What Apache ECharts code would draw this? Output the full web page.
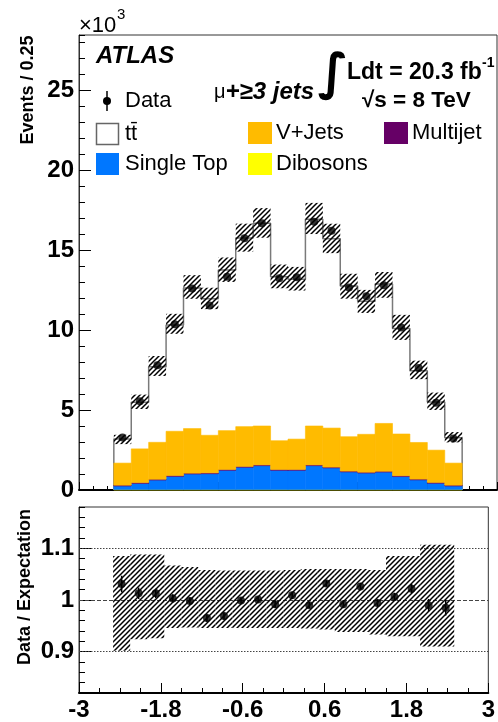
<!DOCTYPE html>
<html><head><meta charset="utf-8">
<script src="https://cdn.jsdelivr.net/npm/echarts@6/dist/echarts.min.js"></script>
<style>html,body{margin:0;padding:0;background:#fff}#c{width:498px;height:722px}</style>
</head><body><div id="c"></div>
<script>
// ---- data (events in units of 10^3) ----
const binLo = [-2.5,-2.25,-2,-1.75,-1.5,-1.25,-1,-0.75,-0.5,-0.25,0,0.25,0.5,0.75,1,1.25,1.5,1.75,2,2.25];
const binHi = [-2.25,-2,-1.75,-1.5,-1.25,-1,-0.75,-0.5,-0.25,0,0.25,0.5,0.75,1,1.25,1.5,1.75,2,2.25,2.5];
const dataEvents = [3.28,5.55,7.80,10.36,12.60,11.53,13.33,15.73,16.68,13.23,13.30,16.76,16.20,12.65,12.11,12.80,10.15,7.62,5.45,3.22];
const ttbar     = [1.50,2.91,4.72,6.65,8.78,8.53,10.04,11.79,12.67,10.25,10.00,12.93,11.83,9.42,8.32,8.72,6.59,4.48,3.01,1.59];
const vjets     = [1.38,2.11,2.31,2.77,2.79,2.35,2.43,2.49,2.43,1.80,1.90,2.43,2.44,2.15,2.37,2.99,2.61,2.29,2.02,1.38];
const multijet  = [0.05,0.05,0.05,0.05,0.05,0.05,0.05,0.05,0.05,0.05,0.05,0.05,0.05,0.05,0.05,0.05,0.05,0.05,0.05,0.05];
const singleTop = [0.22,0.38,0.59,0.82,0.97,0.99,1.20,1.39,1.49,1.20,1.20,1.49,1.35,1.10,1.03,1.09,0.81,0.60,0.39,0.22];
const dibosons  = [0.03,0.03,0.03,0.03,0.03,0.03,0.03,0.03,0.03,0.03,0.03,0.03,0.03,0.03,0.03,0.03,0.03,0.03,0.03,0.03];
const bandUp    = [1.085,1.088,1.088,1.067,1.064,1.058,1.057,1.057,1.057,1.057,1.058,1.060,1.060,1.060,1.060,1.058,1.085,1.085,1.107,1.107];
const bandDown  = [0.902,0.924,0.926,0.946,0.947,0.946,0.946,0.946,0.946,0.946,0.946,0.945,0.943,0.938,0.938,0.933,0.930,0.930,0.910,0.910];
const ratio     = [1.031,1.013,1.013,1.003,0.998,0.965,0.969,0.999,1.001,0.992,1.009,0.990,1.032,0.992,1.026,0.994,1.006,1.022,0.990,0.985];
const ratioErr  = [0.016,0.011,0.009,0.008,0.007,0.007,0.007,0.006,0.006,0.007,0.007,0.006,0.006,0.007,0.007,0.007,0.008,0.009,0.012,0.015];
const yTicksTop = [0,5,10,15,20,25];
const yTicksRatio = [0.9,1,1.1];
const ratioLines = [0.9,1,1.1];

const COL = {ttbar:'#ffffff', vjets:'#FFBB00', multijet:'#660066', singleTop:'#0077FF', dibosons:'#FFFF00'};
const FONT = "'Liberation Sans', Arial, Helvetica, sans-serif";

// build stacks
const layers = [['dibosons',dibosons],['singleTop',singleTop],['multijet',multijet],['vjets',vjets]];
const cum = binLo.map(()=>0);
const layerSeries = [];
layers.forEach(([name, arr])=>{
  const d = binLo.map((lo,i)=>{ const b = cum[i]; cum[i] = b + arr[i]; return [lo, binHi[i], b, cum[i]]; });
  const color = COL[name];
  layerSeries.push({
    type:'custom', name, xAxisIndex:0, yAxisIndex:0, z:2, silent:true,
    encode:{x:[0,1], y:[2,3]}, data:d,
    renderItem:(params, api)=>{
      const p1 = api.coord([api.value(0), api.value(3)]);
      const p2 = api.coord([api.value(1), api.value(2)]);
      return {type:'rect', shape:{x:p1[0], y:p1[1], width:p2[0]-p1[0], height:p2[1]-p1[1]},
        style:{fill:color, stroke:color, lineWidth:0.6}};
    }
  });
});
const total = binLo.map((_,i)=>cum[i] + ttbar[i]);

// outline (step)
const outline = [[binLo[0],0]];
binLo.forEach((lo,i)=>outline.push([lo,total[i]]));
outline.push([binHi[binHi.length-1], total[total.length-1]]);
outline.push([binHi[binHi.length-1], 0]);

// hatch pattern
function hatch(){
  const c = document.createElement('canvas'); c.width=5; c.height=5;
  const g = c.getContext('2d'); g.strokeStyle='#000'; g.lineWidth=1.5;
  g.beginPath();
  g.moveTo(-1,6); g.lineTo(6,-1);
  g.moveTo(-1,1); g.lineTo(1,-1);
  g.moveTo(4,6); g.lineTo(6,4);
  g.stroke(); return c;
}
const hatchImg = hatch();
function bandRender(params, api){
  const p1 = api.coord([api.value(0), api.value(3)]);
  const p2 = api.coord([api.value(1), api.value(2)]);
  return {type:'rect', shape:{x:p1[0], y:p1[1], width:p2[0]-p1[0], height:p2[1]-p1[1]},
    style:{fill:{image:hatchImg, repeat:'repeat'}}};
}

const centers = binLo.map((lo,i)=>(lo+binHi[i])/2);

const axisLblStyle = {fontSize:24, fontWeight:'bold', color:'#000', fontFamily:FONT};

const option = {
  animation:false,
  backgroundColor:'#fff',
  grid:[
    {left:79, top:35, width:418, height:455, show:true, borderColor:'#333', borderWidth:1},
    {left:79, top:507, width:418, height:187, show:true, borderColor:'#333', borderWidth:1}
  ],
  xAxis:[
    {type:'value', gridIndex:0, min:-3, max:3, interval:1, position:'bottom',
     axisLine:{onZero:false, lineStyle:{color:'#000', width:2}},
     axisTick:{inside:true, length:8, lineStyle:{color:'#000', width:1}},
     minorTick:{show:true, splitNumber:5, length:4, lineStyle:{color:'#000', width:1}},
     axisLabel:{show:false}, splitLine:{show:false}},
    {type:'value', gridIndex:1, min:-3, max:3, interval:1.2, position:'bottom',
     axisLine:{onZero:false, lineStyle:{color:'#000', width:2}},
     axisTick:{inside:true, length:10, lineStyle:{color:'#000', width:1}},
     minorTick:{show:true, splitNumber:4, length:5, lineStyle:{color:'#000', width:1}},
     axisLabel:Object.assign({margin:5, formatter:v=>String(+v.toFixed(1))}, axisLblStyle),
     splitLine:{show:false}}
  ],
  yAxis:[
    {type:'value', gridIndex:0, min:0, max:28.44, position:'left',
     axisLine:{onZero:false, lineStyle:{color:'#333', width:1}},
     axisTick:{inside:true, length:12, customValues:yTicksTop, lineStyle:{color:'#000'}},
     axisLabel:Object.assign({margin:5, customValues:yTicksTop}, axisLblStyle),
     splitLine:{show:false}},
    {type:'value', gridIndex:0, min:0, max:28.44, interval:1, position:'left',
     axisLine:{show:false, onZero:false},
     axisTick:{inside:true, length:6, lineStyle:{color:'#000'}},
     axisLabel:{show:false}, splitLine:{show:false}},
    {type:'value', gridIndex:1, min:0.82, max:1.18, position:'left',
     axisLine:{onZero:false, lineStyle:{color:'#333', width:1}},
     axisTick:{inside:true, length:12, customValues:yTicksRatio, lineStyle:{color:'#000'}},
     axisLabel:Object.assign({margin:5, customValues:yTicksRatio}, axisLblStyle),
     splitLine:{show:false}},
    {type:'value', gridIndex:1, min:0.82, max:1.18, interval:0.02, position:'left',
     axisLine:{show:false, onZero:false},
     axisTick:{inside:true, length:6, lineStyle:{color:'#000'}},
     axisLabel:{show:false}, splitLine:{show:false}}
  ],
  series:[
    {type:'line', name:'ttbar', xAxisIndex:0, yAxisIndex:0, z:1, step:'end', symbol:'none', silent:true,
     data:outline, lineStyle:{color:'#7a7a7a', width:1.5}},
    ...layerSeries,
    {type:'custom', name:'band', xAxisIndex:0, yAxisIndex:0, z:3, silent:true, encode:{x:[0,1], y:[2,3]},
     data:binLo.map((lo,i)=>[lo, binHi[i], total[i]*bandDown[i], total[i]*bandUp[i]]), renderItem:bandRender},
    {type:'scatter', name:'Data', xAxisIndex:0, yAxisIndex:0, z:5, silent:true, symbol:'circle', symbolSize:8,
     itemStyle:{color:'#000'}, data:centers.map((c,i)=>[c, dataEvents[i]])},
    // ratio panel
    {type:'custom', name:'ratioBand', xAxisIndex:1, yAxisIndex:2, z:3, silent:true, encode:{x:[0,1], y:[2,3]},
     data:binLo.map((lo,i)=>[lo, binHi[i], bandDown[i], bandUp[i]]), renderItem:bandRender,
     markLine:{silent:true, symbol:'none', z:1, label:{show:false},
       data:ratioLines.map(v=>({yAxis:v, lineStyle:{color:'#444', width:1, type: v===1?[4,2]:[1.5,1.5]}}))}},
    {type:'custom', name:'ratioErr', xAxisIndex:1, yAxisIndex:2, z:4, silent:true, encode:{x:0, y:[1,2]},
     data:centers.map((c,i)=>[c, ratio[i]-ratioErr[i], ratio[i]+ratioErr[i]]),
     renderItem:(params, api)=>{
       const a = api.coord([api.value(0), api.value(1)]);
       const b = api.coord([api.value(0), api.value(2)]);
       return {type:'line', shape:{x1:a[0], y1:a[1], x2:b[0], y2:b[1]}, style:{stroke:'#000', lineWidth:1.5}};
     }},
    {type:'scatter', name:'Ratio', xAxisIndex:1, yAxisIndex:2, z:5, silent:true, symbol:'circle', symbolSize:8,
     itemStyle:{color:'#000'}, data:centers.map((c,i)=>[c, ratio[i]])}
  ],
  graphic:[
    {type:'text', x:79, y:26, style:{text:'×10', font:`22px ${FONT}`, fill:'#000', align:'left', verticalAlign:'middle'}},
    {type:'text', x:117, y:15, style:{text:'3', font:`15px ${FONT}`, fill:'#000', align:'left', verticalAlign:'middle'}},
    {type:'text', x:28, y:90, rotation:Math.PI/2, style:{text:'Events / 0.25', font:`bold 18px ${FONT}`, fill:'#000', align:'center', verticalAlign:'middle'}},
    {type:'text', x:25, y:587, rotation:Math.PI/2, style:{text:'Data / Expectation', font:`bold 18px ${FONT}`, fill:'#000', align:'center', verticalAlign:'middle'}},
    {type:'text', x:96, y:56, style:{text:'ATLAS', font:`italic bold 24px ${FONT}`, fill:'#000', align:'left', verticalAlign:'middle'}},
    {type:'text', x:214, y:92, style:{text:'{m|μ}{b|+≥3 jets}', fill:'#000', align:'left', verticalAlign:'middle',
      rich:{m:{font:`20px ${FONT}`, fill:'#000'}, b:{font:`italic bold 24px ${FONT}`, fill:'#000'}}}},
    {type:'text', x:333, y:76, style:{text:'∫', font:`bold 50px 'DejaVu Sans', sans-serif`, fill:'#000', align:'center', verticalAlign:'middle'}},
    {type:'text', x:347, y:73, style:{text:'Ldt = 20.3 fb', font:`bold 23px ${FONT}`, fill:'#000', align:'left', verticalAlign:'middle'}},
    {type:'text', x:482, y:63, style:{text:'-1', font:`bold 14px ${FONT}`, fill:'#000', align:'left', verticalAlign:'middle'}},
    {type:'text', x:362, y:101, style:{text:'√s = 8 TeV', font:`bold 22.5px ${FONT}`, fill:'#000', align:'left', verticalAlign:'middle'}},
    // legend
    {type:'line', shape:{x1:107, y1:91, x2:107, y2:111}, style:{stroke:'#000', lineWidth:1.5}},
    {type:'circle', shape:{cx:107, cy:101, r:4}, style:{fill:'#000'}},
    {type:'text', x:125, y:101, style:{text:'Data', font:`22px ${FONT}`, fill:'#000', align:'left', verticalAlign:'middle'}},
    {type:'rect', shape:{x:96.5, y:123.5, width:22, height:21}, style:{fill:COL.ttbar, stroke:'#666', lineWidth:1.5}},
    {type:'text', x:125, y:134, style:{text:'tt̄', font:`22px ${FONT}`, fill:'#000', align:'left', verticalAlign:'middle'}},
    {type:'rect', shape:{x:96, y:153, width:23, height:22}, style:{fill:COL.singleTop}},
    {type:'text', x:125, y:164, style:{text:'Single Top', font:`22px ${FONT}`, fill:'#000', align:'left', verticalAlign:'middle'}},
    {type:'rect', shape:{x:248, y:122, width:24, height:22}, style:{fill:COL.vjets}},
    {type:'text', x:276, y:133, style:{text:'V+Jets', font:`22px ${FONT}`, fill:'#000', align:'left', verticalAlign:'middle'}},
    {type:'rect', shape:{x:384, y:122, width:24, height:22}, style:{fill:COL.multijet}},
    {type:'text', x:412, y:133, style:{text:'Multijet', font:`22px ${FONT}`, fill:'#000', align:'left', verticalAlign:'middle'}},
    {type:'rect', shape:{x:248, y:153, width:24, height:22}, style:{fill:COL.dibosons}},
    {type:'text', x:276, y:164, style:{text:'Dibosons', font:`22px ${FONT}`, fill:'#000', align:'left', verticalAlign:'middle'}}
  ]
};
const chart = echarts.init(document.getElementById('c'), null, {renderer:'canvas'});
chart.setOption(option);
</script></body></html>
